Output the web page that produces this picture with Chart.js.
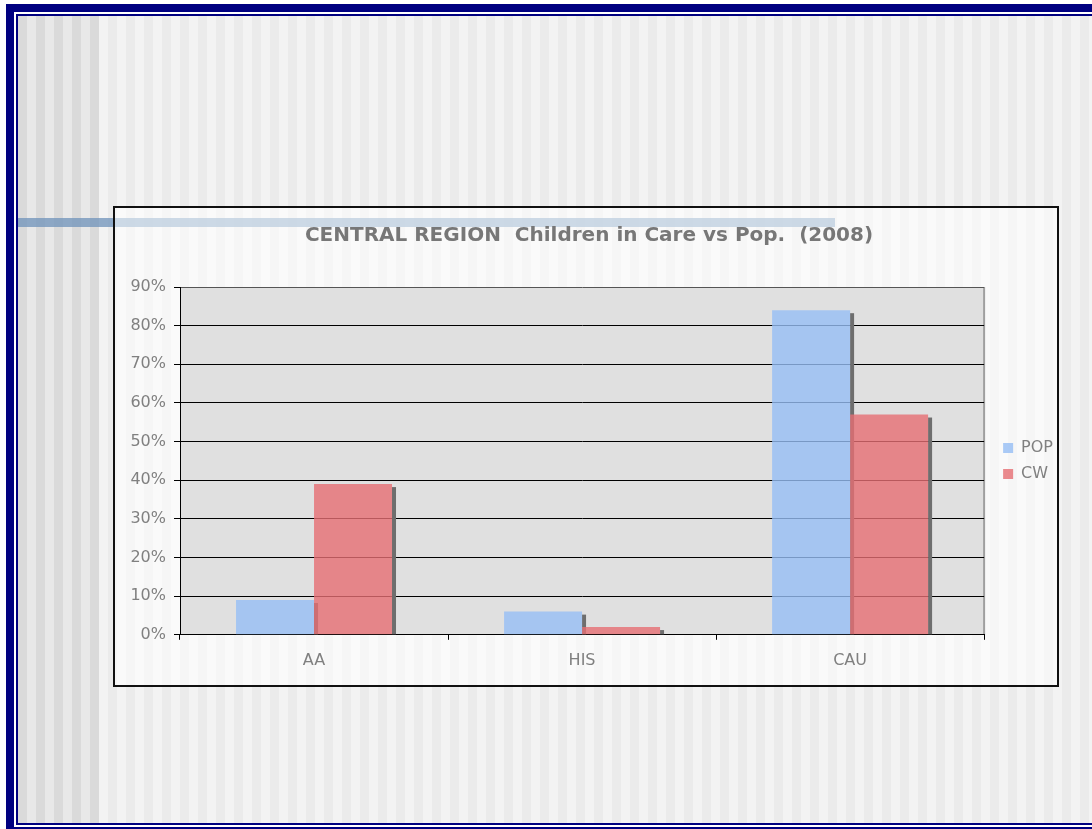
<!DOCTYPE html>
<html>
<head>
<meta charset="utf-8">
<script src="https://cdn.jsdelivr.net/npm/chart.js@4/dist/chart.umd.min.js"></script>
<style>
    html, body { margin: 0; padding: 0; background: #fff; overflow: hidden; }
    body { width: 1092px; height: 829px; position: relative; }
    .navy { position: absolute; left: 6px; top: 4px; width: 1100px; height: 830px; background: #000080; }
    .gap { position: absolute; left: 14px; top: 12px; width: 1100px; height: 815px; background: #fff; }
    .inner { position: absolute; left: 16px; top: 14px; width: 1100px; height: 811px; background: #000080; }
    .slide {
        position: absolute; left: 18px; top: 16px; width: 1100px; height: 807px;
        background:
            repeating-linear-gradient(to right, #dadada 0 9px, #e8e8e8 9px 18px) 0 0 / 81px 100% no-repeat,
            repeating-linear-gradient(to right, #f3f3f3 0 9px, #ebebeb 9px 18px) 81px 0 / 100% 100% no-repeat;
    }
    .band { position: absolute; left: 18px; top: 218px; width: 817px; height: 9px; background: rgba(110, 145, 185, 0.75); }
    .box {
        position: absolute; left: 113px; top: 206px; width: 942px; height: 477px;
        border: 2px solid #111; background: rgba(255, 255, 255, 0.55);
    }
    canvas { display: block; }
</style>
</head>
<body>
<div class="navy"></div>
<div class="gap"></div>
<div class="inner"></div>
<div class="slide"></div>
<div class="band"></div>
<div class="box"><canvas id="myChart" width="942" height="477"></canvas></div>
<script>
const categories = ['AA', 'HIS', 'CAU'];
const popValues = [9, 6, 84];
const cwValues = [39, 2, 57];
const yMax = 90;
const yStep = 10;

// plot background + right edge of the plot area
const plotBackground = {
    id: 'plotBackground',
    beforeDraw(chart) {
        const { ctx, chartArea: a } = chart;
        ctx.save();
        ctx.fillStyle = '#e0e0e0';
        ctx.fillRect(a.left, a.top, a.right - a.left, a.bottom - a.top);
        ctx.strokeStyle = '#a0a0a0';
        ctx.lineWidth = 2;
        ctx.beginPath();
        ctx.moveTo(a.right, a.top);
        ctx.lineTo(a.right, a.bottom);
        ctx.stroke();
        ctx.restore();
    }
};

// grey drop shadow to the right of every bar
const barShadow = {
    id: 'barShadow',
    beforeDatasetsDraw(chart) {
        const ctx = chart.ctx;
        ctx.save();
        ctx.fillStyle = '#6e6e6e';
        chart.data.datasets.forEach((ds, i) => {
            chart.getDatasetMeta(i).data.forEach(bar => {
                const p = bar.getProps(['x', 'y', 'base', 'width'], true);
                const right = p.x + p.width / 2;
                ctx.fillRect(right, p.y + 3, 4, p.base - p.y - 3);
            });
        });
        ctx.restore();
    }
};

Chart.defaults.font.family = '"DejaVu Sans", Verdana, sans-serif';

const ctx = document.getElementById('myChart').getContext('2d');
const myChart = new Chart(ctx, {
    type: 'bar',
    data: {
        labels: categories,
        datasets: [
            {
                label: 'POP',
                data: popValues,
                backgroundColor: 'rgba(150, 190, 245, 0.8)',
                borderWidth: 0
            },
            {
                label: 'CW',
                data: cwValues,
                backgroundColor: 'rgba(230, 110, 115, 0.8)',
                borderWidth: 0
            }
        ]
    },
    options: {
        responsive: false,
        animation: false,
        categoryPercentage: 0.582,
        barPercentage: 1,
        layout: {
            padding: { left: 0, right: -6, top: 0, bottom: 4 }
        },
        scales: {
            x: {
                grid: {
                    offset: true,
                    drawOnChartArea: false,
                    drawTicks: true,
                    tickLength: 5,
                    color: '#000'
                },
                border: { color: '#000', width: 1 },
                ticks: {
                    color: '#808080',
                    font: { size: 16 },
                    padding: 11
                }
            },
            y: {
                min: 0,
                max: yMax,
                afterFit: scale => { scale.width = 65; },
                grid: {
                    color: c => (c.tick && c.tick.value === yMax ? '#555' : '#000'),
                    tickColor: '#000',
                    tickLength: 6
                },
                border: { color: '#000', width: 1 },
                ticks: {
                    stepSize: yStep,
                    color: '#808080',
                    font: { size: 16 },
                    padding: 8,
                    callback: v => v + '%'
                }
            },
            // empty spacer between the plot and the legend
            gap: {
                type: 'linear',
                position: 'right',
                grid: { display: false },
                border: { display: false },
                ticks: { display: false },
                afterFit: scale => { scale.width = 9; }
            }
        },
        plugins: {
            title: {
                display: true,
                text: 'CENTRAL REGION  Children in Care vs Pop.  (2008)',
                color: '#777',
                font: { size: 20, weight: 'bold' },
                padding: { top: 16, bottom: 39 }
            },
            legend: {
                position: 'right',
                fullSize: false,
                labels: {
                    boxWidth: 10,
                    boxHeight: 10,
                    padding: 10,
                    color: '#808080',
                    font: { size: 16 }
                }
            },
            tooltip: { enabled: false }
        }
    },
    plugins: [plotBackground, barShadow]
});
</script>
</body>
</html>
